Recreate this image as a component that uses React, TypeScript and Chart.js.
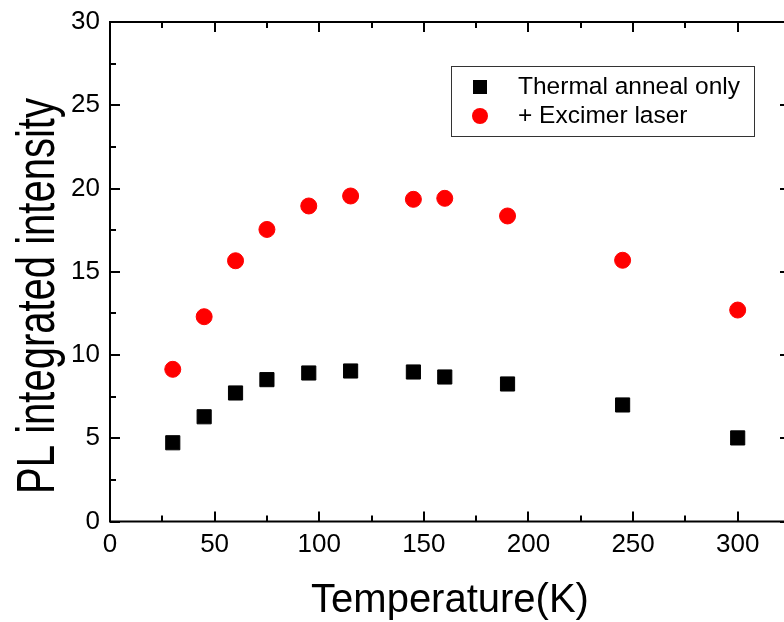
import React, { useEffect, useRef } from "react";
import { Chart, registerables } from "chart.js";

Chart.register(...registerables);

const temperatures = [30, 45, 60, 75, 95, 115, 145, 160, 190, 245, 300];
const thermalAnneal = [4.73, 6.29, 7.72, 8.52, 8.92, 9.04, 8.98, 8.68, 8.26, 7.0, 5.02];
const excimerLaser = [9.14, 12.3, 15.66, 17.54, 18.95, 19.55, 19.35, 19.41, 18.35, 15.69, 12.7];
const xMajorTicks = [0, 50, 100, 150, 200, 250, 300];
const xMinorTicks = [25, 75, 125, 175, 225, 275, 325];
const yMajorTicks = [0, 5, 10, 15, 20, 25, 30];
const yMinorTicks = [2.5, 7.5, 12.5, 17.5, 22.5, 27.5];
const seriesLabels = ["Thermal anneal only", "+ Excimer laser"];
const xTitle = "Temperature(K)";
const yTitle = "PL integrated intensity";

const FONT = "'Liberation Sans', Arial, sans-serif";

const framePlugin = {
  id: "frameTicks",
  afterDatasetsDraw(chart: any) {
    const { ctx, chartArea: a, scales } = chart;
    const xs = scales.x;
    const ys = scales.y;
    ctx.save();
    ctx.strokeStyle = "#000";
    ctx.lineWidth = 2;
    ctx.lineCap = "butt";
    ctx.strokeRect(a.left, a.top, a.right - a.left, a.bottom - a.top);
    const tick = (x1: number, y1: number, x2: number, y2: number) => {
      ctx.beginPath();
      ctx.moveTo(x1, y1);
      ctx.lineTo(x2, y2);
      ctx.stroke();
    };
    const drawX = (vals: number[], len: number) => {
      vals.forEach((v) => {
        const p = Math.round(xs.getPixelForValue(v));
        tick(p, a.bottom, p, a.bottom - len);
        tick(p, a.top, p, a.top + len);
      });
    };
    const drawY = (vals: number[], len: number) => {
      vals.forEach((v) => {
        const p = Math.round(ys.getPixelForValue(v));
        tick(a.left, p, a.left + len, p);
        tick(a.right, p, a.right - len, p);
      });
    };
    drawX(xMajorTicks, 10);
    drawX(xMinorTicks, 6);
    drawY(yMajorTicks, 10);
    drawY(yMinorTicks, 6);
    ctx.restore();
  },
  afterDraw(chart: any) {
    const { ctx } = chart;
    const ds = chart.data.datasets;
    ctx.save();
    ctx.fillStyle = "#000";
    ctx.translate(54, 296);
    ctx.rotate(-Math.PI / 2);
    ctx.scale(1, 1.35);
    ctx.font = `40px ${FONT}`;
    ctx.textAlign = "center";
    ctx.textBaseline = "alphabetic";
    ctx.fillText(yTitle, 0, 0);
    ctx.restore();

    ctx.save();
    ctx.lineWidth = 1;
    ctx.strokeStyle = "#333";
    ctx.fillStyle = "#fff";
    ctx.fillRect(451, 66, 304, 71);
    ctx.strokeRect(451.5, 66.5, 303, 70);
    const rows = [87, 116];
    ds.forEach((d: any, i: number) => {
      const y = rows[i];
      ctx.fillStyle = d.backgroundColor;
      if (d.pointStyle === "rect") {
        ctx.fillRect(473, y - 7, 14, 14);
      } else {
        ctx.beginPath();
        ctx.arc(480, y, 8, 0, Math.PI * 2);
        ctx.fill();
      }
      ctx.fillStyle = "#000";
      ctx.font = `24.5px ${FONT}`;
      ctx.textBaseline = "middle";
      ctx.textAlign = "left";
      ctx.fillText(d.label, 518, y);
    });
    ctx.restore();
  },
};

export default function App() {
  const ref = useRef<HTMLCanvasElement | null>(null);
  useEffect(() => {
    if (!ref.current) return;
    const chart = new Chart(ref.current, {
      type: "scatter",
      data: {
        datasets: [
          {
            label: seriesLabels[0],
            data: temperatures.map((t, i) => ({ x: t, y: thermalAnneal[i] })),
            pointStyle: "rect",
            pointRadius: 10,
            backgroundColor: "#000000",
            borderColor: "#000000",
            borderWidth: 1,
          },
          {
            label: seriesLabels[1],
            data: temperatures.map((t, i) => ({ x: t, y: excimerLaser[i] })),
            pointStyle: "circle",
            pointRadius: 8,
            backgroundColor: "#ff0000",
            borderColor: "#ff0000",
            borderWidth: 1,
          },
        ],
      },
      options: {
        responsive: false,
        animation: false,
        devicePixelRatio: 1,
        layout: { autoPadding: false, padding: { top: 22, right: 2, left: 0, bottom: 0 } },
        plugins: {
          legend: { display: false },
          tooltip: { enabled: false },
        },
        scales: {
          x: {
            type: "linear",
            min: 0,
            max: 325,
            grid: { display: false, drawTicks: false },
            border: { display: false },
            afterBuildTicks: (s: any) => {
              s.ticks = xMajorTicks.map((v) => ({ value: v }));
            },
            afterFit: (s: any) => {
              s.height = 100.5;
              s.paddingLeft = 0;
              s.paddingRight = 0;
            },
            ticks: {
              color: "#000",
              padding: 8,
              font: { family: FONT, size: 26 },
              maxRotation: 0,
              autoSkip: false,
            },
            title: {
              display: true,
              text: xTitle,
              color: "#000",
              font: { family: FONT, size: 40 },
              padding: { top: 0, bottom: -3 },
            },
          },
          y: {
            type: "linear",
            min: 0,
            max: 30,
            grid: { display: false, drawTicks: false },
            border: { display: false },
            afterBuildTicks: (s: any) => {
              s.ticks = yMajorTicks.map((v) => ({ value: v }));
            },
            afterFit: (s: any) => {
              s.width = 110;
              s.paddingTop = 0;
              s.paddingBottom = 0;
            },
            ticks: {
              color: "#000",
              padding: 10,
              font: { family: FONT, size: 26 },
              autoSkip: false,
            },
            title: { display: false },
          },
        },
      },
      plugins: [framePlugin],
    } as any);
    return () => chart.destroy();
  }, []);
  return (
    <div
      style={{
        position: "absolute",
        left: 0,
        top: 0,
        width: 784,
        height: 622,
        overflow: "hidden",
        background: "#fff",
      }}
    >
      <canvas ref={ref} width={792} height={622} style={{ display: "block" }} />
    </div>
  );
}
